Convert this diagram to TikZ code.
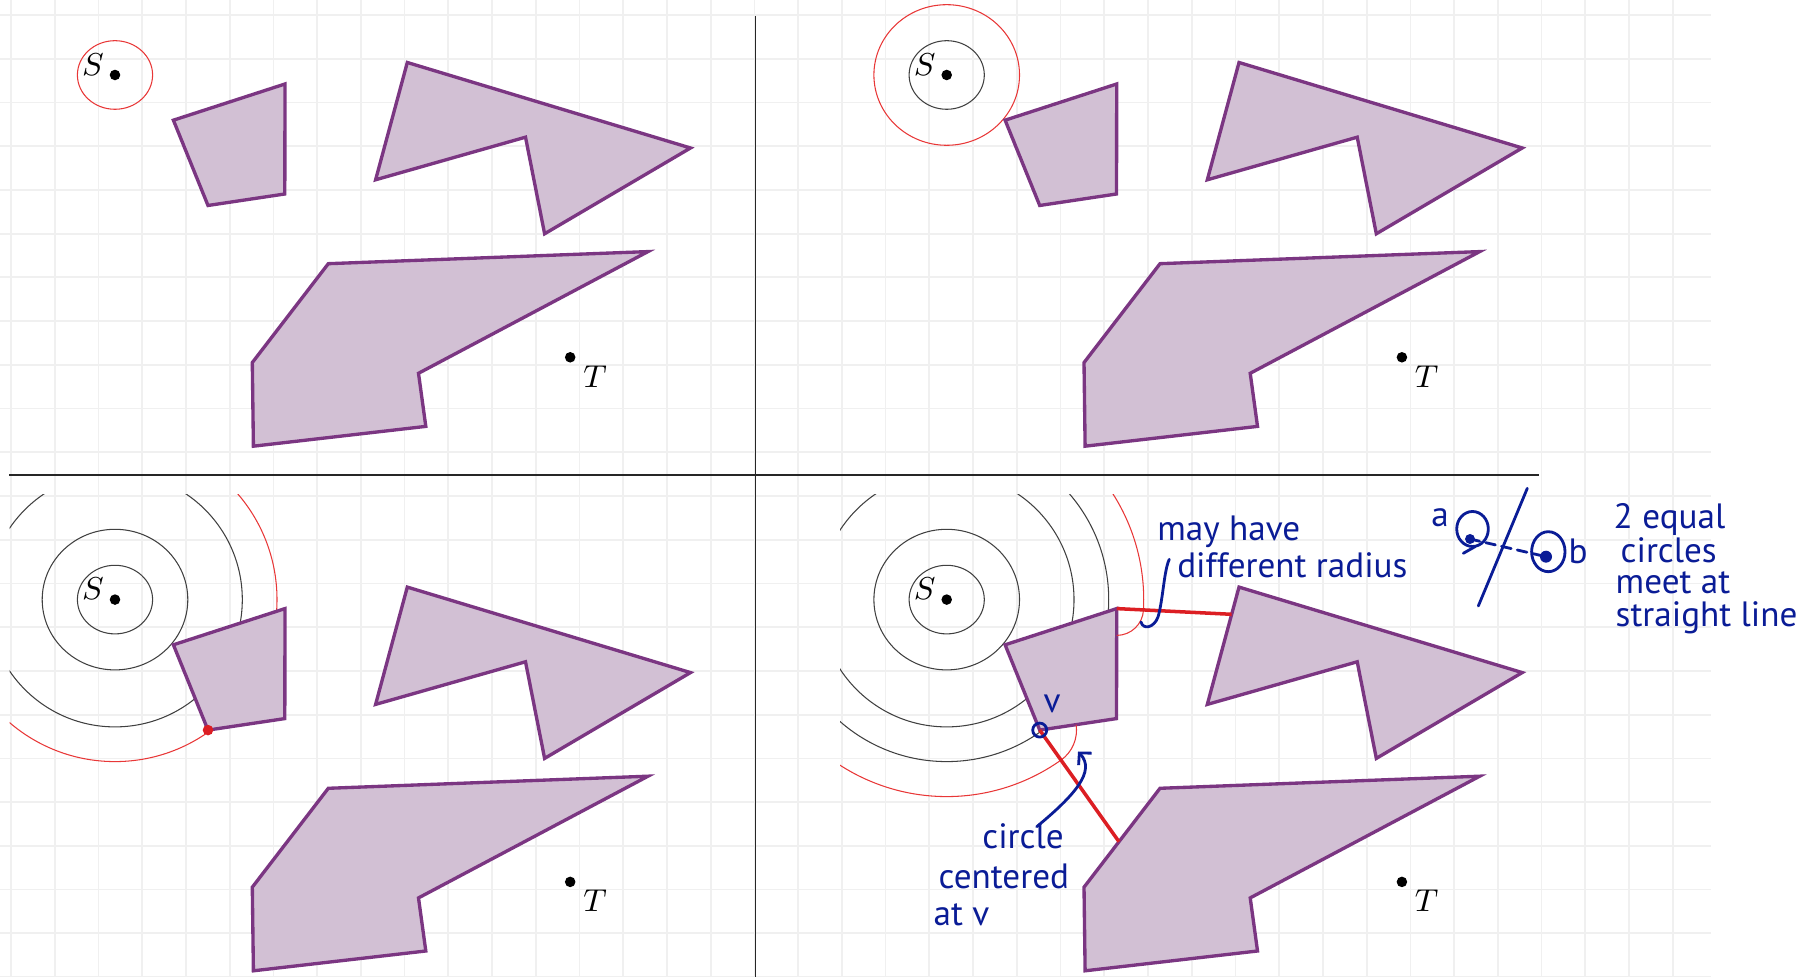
\documentclass[tikz,border=0pt]{standalone}
\usepackage{fontspec}
\newfontfamily\handfont{PT Sans}
\usetikzlibrary{
    positioning,
    calc,
    arrows.meta
}
\definecolor{obstfill}{RGB}{210,192,212}
\definecolor{obstline}{RGB}{123,54,130}
\definecolor{gridgray}{RGB}{240,240,240}
\definecolor{wavered}{RGB}{232,55,55}
\definecolor{pathred}{RGB}{220,30,35}
\definecolor{ink}{RGB}{10,28,150}
\tikzset{
    > = {Straight Barb[length=2.4pt, width=5pt]},
    gridline/.style = {draw=gridgray, line width=0.5pt},
    divider/.style = {draw=black!85, line width=0.55pt},
    obstacle/.style = {draw=obstline, fill=obstfill, line width=0.95pt},
    wave/.style = {draw=black!75, line width=0.3pt},
    redwave/.style = {draw=wavered, line width=0.3pt},
    shortest/.style = {draw=pathred, line width=1pt},
    dot/.style = {circle, fill=black, inner sep=0pt, minimum size=3pt},
    reddot/.style = {circle, fill=pathred, inner sep=0pt, minimum size=3pt},
    ptlabel/.style = {font=\fontsize{9}{11}\selectfont, inner sep=0pt},
    handline/.style = {draw=ink, line width=0.8pt, line cap=round, line join=round},
    hand/.style = {text=ink, font=\handfont\fontsize{10}{12}\selectfont, inner sep=0pt},
}
\begin{document}
\begin{tikzpicture}[x=0.01cm, y=-0.01cm]
\useasboundingbox (0,0) rectangle (1801,977);

% grid paper
\foreach \k in {0,...,38}
    \draw[gridline] ({11+43.73*\k},0) -- ({11+43.73*\k},977);
\foreach \k in {0,...,22}
    \draw[gridline] (0,{15+43.73*\k}) -- (1711,{15+43.73*\k});

\draw[divider] (755.5,16) -- (755.5,977);
\draw[divider] (9,475) -- (1539,475);

\coordinate (Sa) at (115,75);
\coordinate (Sb) at (946.7,75);
\coordinate (Sc) at (115,599.6);
\coordinate (Sd) at (946.7,599.6);

% wavefronts
\draw[redwave] (Sa) circle [x radius=37.6, y radius=34.3];

\draw[wave] (Sb) circle [x radius=37.6, y radius=34.3];
\draw[redwave] (Sb) circle [x radius=72.8, y radius=70.3];

\begin{scope}
\clip (9.7,495) rectangle (755,977);
\draw[wave] (Sc) circle [x radius=37.6, y radius=34.3];
\draw[wave] (Sc) circle [x radius=72.8, y radius=70.3];
\draw[wave] (Sc) circle [radius=127.3];
\draw[redwave] (Sc) circle [radius=162];
\end{scope}

\begin{scope}
\clip (840,495) rectangle (1711,977);
\draw[wave] (Sd) circle [x radius=37.6, y radius=34.3];
\draw[wave] (Sd) circle [x radius=72.8, y radius=70.3];
\draw[wave] (Sd) circle [radius=127.3];
\draw[wave] (Sd) circle [radius=162];
\draw[redwave] (Sd) ++(-60:197) arc [start angle=-60, end angle=3, radius=197];
\draw[redwave] (Sd) ++(54.5:197) arc [start angle=54.5, end angle=150, radius=197];
\end{scope}

% obstacles, S and T in each panel
\foreach \dx/\dy/\p in {0/0/a, 831.7/0/b, 0/524.6/c, 831.7/524.6/d} {
\begin{scope}[shift={(\dx,\dy)}]
\draw[obstacle] (173.4,120.2) coordinate (q1\p) -- (285,84) coordinate (q2\p)
    -- (284.8,194) coordinate (q3\p) -- (208,205.5) coordinate (q4\p) -- cycle;
\draw[obstacle] (407.3,62.5) coordinate (a1\p) -- (690.5,148) coordinate (a2\p)
    -- (544.6,233.8) coordinate (a3\p) -- (525.5,137.2) coordinate (a4\p)
    -- (375.6,179.8) coordinate (a5\p) -- cycle;
\draw[obstacle] (328.3,263.7) coordinate (b1\p) -- (648,251.6) coordinate (b2\p)
    -- (418.5,373.3) coordinate (b3\p) -- (425.8,426.4) coordinate (b4\p)
    -- (253.4,446.2) coordinate (b5\p) -- (252.3,362.6) coordinate (b6\p) -- cycle;
\node[dot] (Sdot\p) at (S\p) {};
\node[ptlabel] (Slab\p) at (93,64.5) {$S$};
\node[dot] (T\p) at (570.2,357.3) {};
\node[ptlabel] (Tlab\p) at (595,376.3) {$T$};
\end{scope}
}

\node[reddot] (vc) at (q4c) {};

% bottom right: wavefront past the corners
\draw[redwave] (q2d) ++(3:26.8) arc [start angle=3, end angle=90, radius=26.8];
\draw[redwave] (q4d) ++(54.5:36.8) arc [start angle=54.5, end angle=-8.5, radius=36.8];

\coordinate (hitA) at ($(a1d)!0.232!(a5d)$);
\coordinate (hitB) at ($(b1d)!0.54!(b6d)$);
\draw[shortest] (q2d) -- (hitA);
\draw[shortest] (q4d) -- (hitB);

% notes
\node[hand, anchor=base west] (mayhave) at (1156.7,541) {may have};
\node[hand, anchor=base west] (diffrad) at (1176.6,578) {different radius};
\coordinate (bracetop) at (1169.3,559.3);
\coordinate (bracetip) at (1141,622);
\draw[handline] (bracetop) .. controls (1164,570) and (1163,600) .. (1158,617)
    .. controls (1154,628) and (1143,630) .. (bracetip);

\node[hand, anchor=base west] (vlab) at (1043,713) {v};
\draw[handline] (q4d) circle (7);

\node[hand, anchor=base west] (circ) at (981.7,848) {circle};
\node[hand, anchor=base west] (cent) at (938,888) {centered};
\node[hand, anchor=base west] (atv) at (933,925) {at v};
\coordinate (arrtail) at (1036.7,826.7);
\coordinate (arrtip) at (1078,751.5);
\draw[handline, ->] (arrtail) .. controls (1075,795) and (1096,771) .. (arrtip);

\node[hand] (alab) at (1440,518) {a};
\node[hand] (blab) at (1578,551) {b};
\coordinate (adot) at (1470,539);
\coordinate (bdot) at (1546,556.7);
\draw[handline] (1472.5,529) circle [x radius=15.8, y radius=17.5];
\draw[handline] (1463.3,553.3) -- (1475,546.7);
\draw[handline] (1548.3,551.7) circle [x radius=16.7, y radius=20];
\fill[ink] (adot) circle (5);
\fill[ink] (bdot) circle (6);
\draw[handline, dash pattern=on 2.8pt off 1.8pt] (adot) -- (bdot);
\draw[handline] (1527.3,488.3) -- (1478.3,606);

\node[hand, anchor=base west] (eq1) at (1613,529) {2 equal};
\node[hand, anchor=base west] (eq2) at (1620,563) {circles};
\node[hand, anchor=base west] (eq3) at (1615,594) {meet at};
\node[hand, anchor=base west] (eq4) at (1615,627) {straight line};
\end{tikzpicture}
\end{document}
